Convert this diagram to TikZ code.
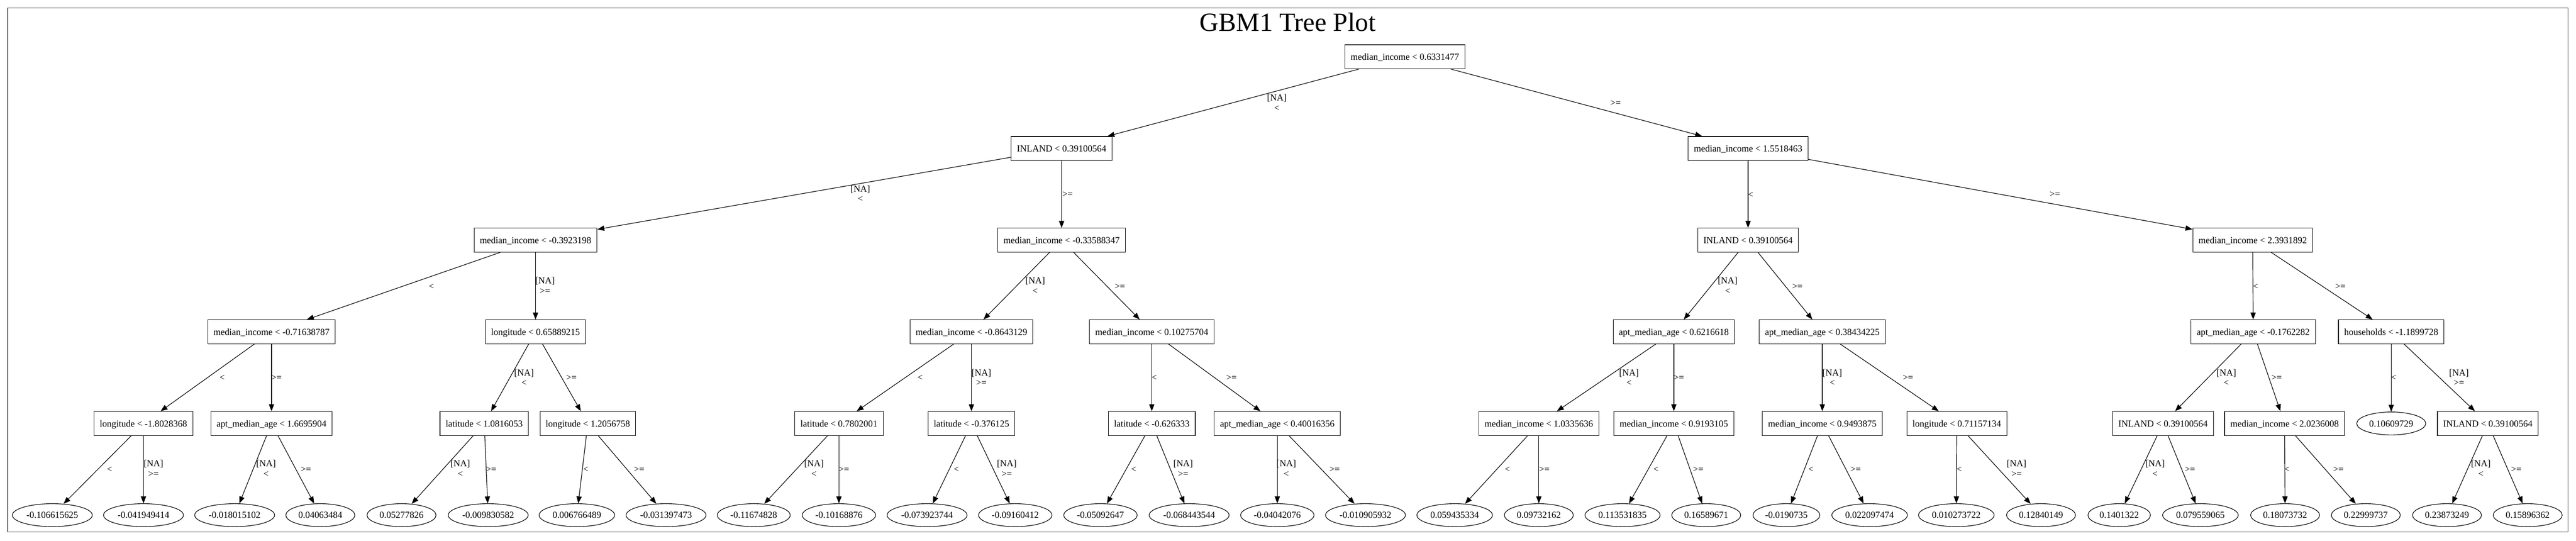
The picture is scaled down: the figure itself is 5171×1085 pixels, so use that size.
\documentclass[tikz,border=0pt]{standalone}
\usepackage{fontspec}
\setmainfont{Liberation Serif}
\usetikzlibrary{arrows.meta,shapes.geometric}
\newcommand{\gvfont}{\fontsize{18.6pt}{20pt}\selectfont}
\newcommand{\mkedge}[5]{\draw[edgearrow] (#1) -- (#2); \node[edgelabel] (lab#2) at (#4,#5) {#3};}
\begin{document}
\begin{tikzpicture}[x=1pt,y=-1pt,
  splitbox/.style={draw, line width=1.2pt, rectangle, inner xsep=11.5pt, inner ysep=0pt,
    minimum height=48pt, text height=12.7pt, text depth=0pt, font=\gvfont},
  leafnode/.style={draw, line width=1.2pt, ellipse, inner xsep=4.8pt, inner ysep=2pt,
    minimum height=46pt, text height=12.7pt, text depth=0pt, font=\gvfont},
  edgearrow/.style={line width=1.2pt, -{Triangle[length=14pt,width=10.5pt]}},
  edgelabel/.style={align=center, inner sep=0pt, font=\gvfont}]
\useasboundingbox (0,0) rectangle (5171,1085);
\fill[white] (0,0) rectangle (5171,1085);
\draw[black!65, line width=1.5pt] (15.5,16) rectangle (5155,1068);
\node[anchor=base, inner sep=0pt, font=\fontsize{52.8pt}{60pt}\selectfont] (title) at (2585,63) {GBM1 Tree Plot};
% level 0-2
\node[splitbox] (r) at (2820,114) {median\_income < 0.6331477};
\node[splitbox] (a) at (2131,298) {INLAND < 0.39100564};
\node[splitbox] (b) at (3509,298) {median\_income < 1.5518463};
\node[splitbox] (a1) at (1075,482) {median\_income < -0.3923198};
\node[splitbox] (a2) at (2131,482) {median\_income < -0.33588347};
\node[splitbox] (b1) at (3509,482) {INLAND < 0.39100564};
\node[splitbox] (b2) at (4522,482) {median\_income < 2.3931892};
% level 3
\node[splitbox] (a11) at (545,666) {median\_income < -0.71638787};
\node[splitbox] (a12) at (1075,666) {longitude < 0.65889215};
\node[splitbox] (a21) at (1950,666) {median\_income < -0.8643129};
\node[splitbox] (a22) at (2312,666) {median\_income < 0.10275704};
\node[splitbox] (b11) at (3360,666) {apt\_median\_age < 0.6216618};
\node[splitbox] (b12) at (3658,666) {apt\_median\_age < 0.38434225};
\node[splitbox] (b21) at (4523,666) {apt\_median\_age < -0.1762282};
\node[splitbox] (b22) at (4800,666) {households < -1.1899728};
% level 4
\node[splitbox] (n1) at (288,850) {longitude < -1.8028368};
\node[splitbox] (n2) at (545,850) {apt\_median\_age < 1.6695904};
\node[splitbox] (n3) at (972,850) {latitude < 1.0816053};
\node[splitbox] (n4) at (1180,850) {longitude < 1.2056758};
\node[splitbox] (n5) at (1684,850) {latitude < 0.7802001};
\node[splitbox] (n6) at (1950,850) {latitude < -0.376125};
\node[splitbox] (n7) at (2312,850) {latitude < -0.626333};
\node[splitbox] (n8) at (2564,850) {apt\_median\_age < 0.40016356};
\node[splitbox] (n9) at (3089,850) {median\_income < 1.0335636};
\node[splitbox] (n10) at (3360,850) {median\_income < 0.9193105};
\node[splitbox] (n11) at (3658,850) {median\_income < 0.9493875};
\node[splitbox] (n12) at (3928,850) {longitude < 0.71157134};
\node[splitbox] (n13) at (4342,850) {INLAND < 0.39100564};
\node[splitbox] (n14) at (4586,850) {median\_income < 2.0236008};
\node[leafnode] (n15) at (4800,850) {0.10609729};
\node[splitbox] (n16) at (4994,850) {INLAND < 0.39100564};
% leaves
\node[leafnode] (f1) at (105,1034) {-0.106615625};
\node[leafnode] (f2) at (288,1034) {-0.041949414};
\node[leafnode] (f3) at (471,1034) {-0.018015102};
\node[leafnode] (f4) at (643,1034) {0.04063484};
\node[leafnode] (f5) at (806,1034) {0.05277826};
\node[leafnode] (f6) at (980,1034) {-0.009830582};
\node[leafnode] (f7) at (1158,1034) {0.006766489};
\node[leafnode] (f8) at (1337,1034) {-0.031397473};
\node[leafnode] (f9) at (1513,1034) {-0.11674828};
\node[leafnode] (f10) at (1684,1034) {-0.10168876};
\node[leafnode] (f11) at (1861,1034) {-0.073923744};
\node[leafnode] (f12) at (2038,1034) {-0.09160412};
\node[leafnode] (f13) at (2209,1034) {-0.05092647};
\node[leafnode] (f14) at (2387,1034) {-0.068443544};
\node[leafnode] (f15) at (2564,1034) {-0.04042076};
\node[leafnode] (f16) at (2741,1034) {-0.010905932};
\node[leafnode] (f17) at (2920,1034) {0.059435334};
\node[leafnode] (f18) at (3089,1034) {0.09732162};
\node[leafnode] (f19) at (3257,1034) {0.113531835};
\node[leafnode] (f20) at (3425,1034) {0.16589671};
\node[leafnode] (f21) at (3586,1034) {-0.0190735};
\node[leafnode] (f22) at (3753,1034) {0.022097474};
\node[leafnode] (f23) at (3927,1034) {0.010273722};
\node[leafnode] (f24) at (4097,1034) {0.12840149};
\node[leafnode] (f25) at (4254,1034) {0.1401322};
\node[leafnode] (f26) at (4417,1034) {0.079559065};
\node[leafnode] (f27) at (4587,1034) {0.18073732};
\node[leafnode] (f28) at (4749,1034) {0.22999737};
\node[leafnode] (f29) at (4912,1034) {0.23873249};
\node[leafnode] (f30) at (5074,1034) {0.15896362};
% edges level 0-2
\mkedge{r}{a}{[NA]\\<}{2563}{206}
\mkedge{r}{b}{>=}{3243}{207}
\mkedge{a}{a1}{[NA]\\<}{1727}{388.8}
\mkedge{a}{a2}{>=}{2143}{390}
\mkedge{b}{b1}{<}{3514}{391}
\mkedge{b}{b2}{>=}{4125}{390}
\mkedge{a1}{a11}{<}{866}{575}
\mkedge{a1}{a12}{[NA]\\>=}{1094}{573.3}
\mkedge{a2}{a21}{[NA]\\<}{2078}{573.3}
\mkedge{a2}{a22}{>=}{2248}{575}
\mkedge{b1}{b11}{[NA]\\<}{3468}{573.3}
\mkedge{b1}{b12}{>=}{3608}{575}
\mkedge{b2}{b21}{<}{4528}{575}
\mkedge{b2}{b22}{>=}{4698}{575}
% edges level 3-4
\mkedge{a11}{n1}{<}{446}{758}
\mkedge{a11}{n2}{>=}{555}{758}
\mkedge{a12}{n3}{[NA]\\<}{1052}{757.8}
\mkedge{a12}{n4}{>=}{1147}{758}
\mkedge{a21}{n5}{<}{1847}{758}
\mkedge{a21}{n6}{[NA]\\>=}{1970}{757.8}
\mkedge{a22}{n7}{<}{2317}{758}
\mkedge{a22}{n8}{>=}{2472}{758}
\mkedge{b11}{n9}{[NA]\\<}{3270}{757.8}
\mkedge{b11}{n10}{>=}{3370}{758}
\mkedge{b12}{n11}{[NA]\\<}{3678}{757.8}
\mkedge{b12}{n12}{>=}{3830}{758}
\mkedge{b21}{n13}{[NA]\\<}{4469}{757.8}
\mkedge{b21}{n14}{>=}{4570}{758}
\mkedge{b22}{n15}{<}{4805}{758}
\mkedge{b22}{n16}{[NA]\\>=}{4936}{757.8}
% edges level 4-5
\mkedge{n1}{f1}{<}{220}{943}
\mkedge{n1}{f2}{[NA]\\>=}{308}{940.3}
\mkedge{n2}{f3}{[NA]\\<}{534}{940.3}
\mkedge{n2}{f4}{>=}{614}{943}
\mkedge{n3}{f5}{[NA]\\<}{924}{940.3}
\mkedge{n3}{f6}{>=}{986}{943}
\mkedge{n4}{f7}{<}{1176}{943}
\mkedge{n4}{f8}{>=}{1283}{943}
\mkedge{n5}{f9}{[NA]\\<}{1634}{940.3}
\mkedge{n5}{f10}{>=}{1694}{943}
\mkedge{n6}{f11}{<}{1920}{943}
\mkedge{n6}{f12}{[NA]\\>=}{2021}{940.3}
\mkedge{n7}{f13}{<}{2276}{943}
\mkedge{n7}{f14}{[NA]\\>=}{2375}{940.3}
\mkedge{n8}{f15}{[NA]\\<}{2582}{940.3}
\mkedge{n8}{f16}{>=}{2679}{943}
\mkedge{n9}{f17}{<}{3026}{943}
\mkedge{n9}{f18}{>=}{3100}{943}
\mkedge{n10}{f19}{<}{3324}{943}
\mkedge{n10}{f20}{>=}{3409}{943}
\mkedge{n11}{f21}{<}{3635}{943}
\mkedge{n11}{f22}{>=}{3725}{943}
\mkedge{n12}{f23}{<}{3933}{943}
\mkedge{n12}{f24}{[NA]\\>=}{4048}{940.3}
\mkedge{n13}{f25}{[NA]\\<}{4326}{940.3}
\mkedge{n13}{f26}{>=}{4396}{943}
\mkedge{n14}{f27}{<}{4591}{943}
\mkedge{n14}{f28}{>=}{4694}{943}
\mkedge{n16}{f29}{[NA]\\<}{4980}{940.3}
\mkedge{n16}{f30}{>=}{5051}{943}
\end{tikzpicture}
\end{document}
